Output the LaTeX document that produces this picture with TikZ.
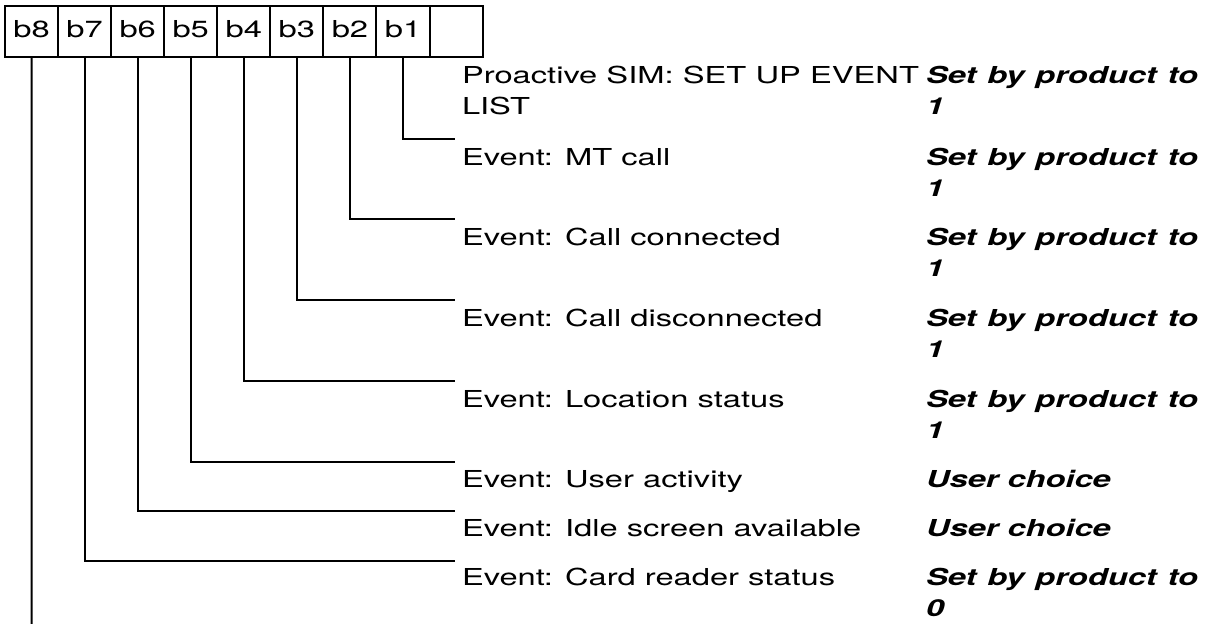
\documentclass[tikz,border=0pt]{standalone}
\usepackage{fontspec}
\setmainfont[FakeStretch=1.4]{TeX Gyre Heros}
\usetikzlibrary{positioning}
\newcommand{\rowfont}{\fontsize{17.5}{23.25}\selectfont}
\newcommand{\fillrow}[1]{\makebox[342.75pt][s]{#1}}
\newcommand{\fillval}[1]{\makebox[204pt][s]{#1}}

\begin{document}
\begin{tikzpicture}[x=0.75pt, y=-0.75pt, line width=1.5pt, node distance=0pt,
  cell/.style={draw, rectangle, minimum width=39.8pt, minimum height=38.25pt,
    inner sep=0pt, outer sep=0pt, text depth=4.4pt, font=\rowfont},
  lbl/.style={anchor=north west, inner sep=0pt, align=left, font=\rowfont},
  val/.style={lbl, font=\rowfont\bfseries\itshape}]

\useasboundingbox (0,0) rectangle (1210,624);

%b8
\node[cell, anchor=north west] (b8) at (5,6) {b8};
%b7
\node[cell, right=of b8] (b7) {b7};
%b6
\node[cell, right=of b7] (b6) {b6};
%b5
\node[cell, right=of b6] (b5) {b5};
%b4
\node[cell, right=of b5] (b4) {b4};
%b3
\node[cell, right=of b4] (b3) {b3};
%b2
\node[cell, right=of b3] (b2) {b2};
%b1
\node[cell, right=of b2] (b1) {b1};
%spare
\node[cell, right=of b1] (b0) {};

% line ends
\coordinate (e1) at (455,139);
\coordinate (e2) at (455,219);
\coordinate (e3) at (455,300);
\coordinate (e4) at (455,381);
\coordinate (e5) at (455,462);
\coordinate (e6) at (455,511);
\coordinate (e7) at (455,561);
\coordinate (e8) at (31.55,624);

% events
\node[lbl] (ev1) at (461,65) {\fillrow{Proactive SIM: SET UP EVENT}\\LIST};
\node[val] (val1) at (925,65) {\fillval{Set by product to}\\1};
\node[lbl] (ev2) at (461,147) {Event: MT call};
\node[val] (val2) at (925,147) {\fillval{Set by product to}\\1};
\node[lbl] (ev3) at (461,227) {Event: Call connected};
\node[val] (val3) at (925,227) {\fillval{Set by product to}\\1};
\node[lbl] (ev4) at (461,308) {Event: Call disconnected};
\node[val] (val4) at (925,308) {\fillval{Set by product to}\\1};
\node[lbl] (ev5) at (461,389) {Event: Location status};
\node[val] (val5) at (925,389) {\fillval{Set by product to}\\1};
\node[lbl] (ev6) at (461,469) {Event: User activity};
\node[val] (val6) at (925,469) {User choice};
\node[lbl] (ev7) at (461,518) {Event: Idle screen available};
\node[val] (val7) at (925,518) {User choice};
\node[lbl] (ev8) at (461,567) {Event: Card reader status};
\node[val] (val8) at (925,567) {\fillval{Set by product to}\\0};

\draw (b1.south) |- (e1);
\draw (b2.south) |- (e2);
\draw (b3.south) |- (e3);
\draw (b4.south) |- (e4);
\draw (b5.south) |- (e5);
\draw (b6.south) |- (e6);
\draw (b7.south) |- (e7);
\draw (b8.south) -- (e8);

\end{tikzpicture}
\end{document}
